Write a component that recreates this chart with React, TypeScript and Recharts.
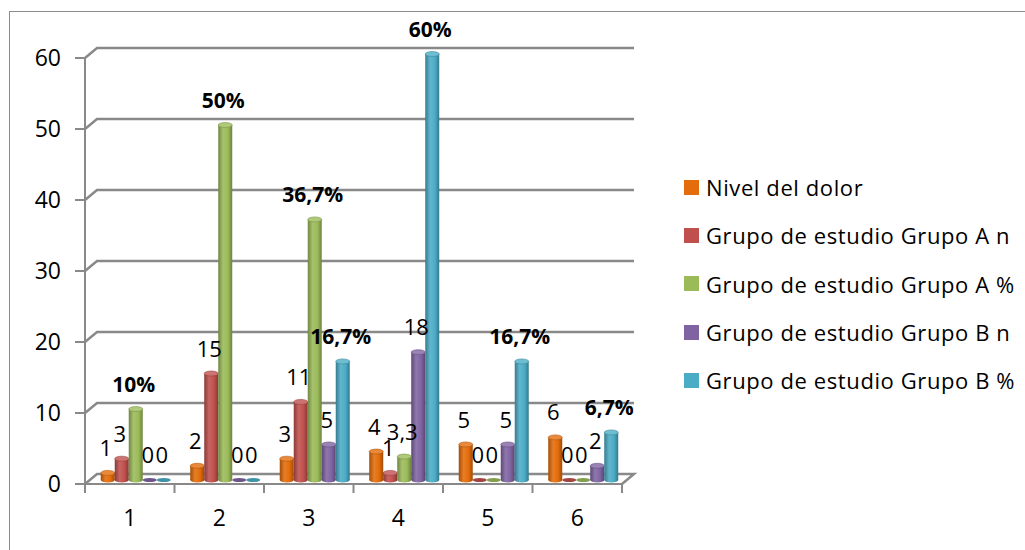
import { Bar, BarChart, CartesianGrid, LabelList, XAxis, YAxis } from "recharts";

const categories = ["1", "2", "3", "4", "5", "6"];
const nivelDolor = [1, 2, 3, 4, 5, 6];
const grupoAn = [3, 15, 11, 1, 0, 0];
const grupoApct = [10, 50, 36.7, 3.3, 0, 0];
const grupoBn = [0, 0, 5, 18, 5, 2];
const grupoBpct = [0, 0, 16.7, 60, 16.7, 6.7];
const grupoApctLabels = ["10%", "50%", "36,7%", "3,3", "0", "0"];
const grupoBpctLabels = ["0", "0", "16,7%", "60%", "16,7%", "6,7%"];
const yTicks = [0, 10, 20, 30, 40, 50, 60];

const series = [
  { key: "nivel", name: "Nivel del dolor", color: "#E46C0A", values: nivelDolor, labels: nivelDolor.map(String) },
  { key: "an", name: "Grupo de estudio Grupo A n", color: "#C0504D", values: grupoAn, labels: grupoAn.map(String) },
  { key: "ap", name: "Grupo de estudio Grupo A %", color: "#9BBB59", values: grupoApct, labels: grupoApctLabels },
  { key: "bn", name: "Grupo de estudio Grupo B n", color: "#8064A2", values: grupoBn, labels: grupoBn.map(String) },
  { key: "bp", name: "Grupo de estudio Grupo B %", color: "#4BACC6", values: grupoBpct, labels: grupoBpctLabels },
];

const data = categories.map((c, i) => {
  const row: Record<string, string | number> = { cat: c };
  series.forEach((s) => (row[s.key] = s.values[i]));
  return row;
});

const W = 1025;
const H = 550;
const M = { top: 58, right: 403, bottom: 0, left: 0 };
const Y_AXIS_W = 85;
const X_AXIS_H = 66;
const PLOT_LEFT = M.left + Y_AXIS_W;
const PLOT_RIGHT = W - M.right;
const PLOT_BOTTOM = H - M.bottom - X_AXIS_H;
const BAND = (PLOT_RIGHT - PLOT_LEFT) / categories.length;
// fake 3d depth: back wall offset, bars sit a bit behind the front edge
const DX = 12;
const DY = 10;
const BAR_DX = 5;
const BAR_LIFT = 4;
const GRID = "#898989";
const FONT = "'Open Sans', 'Noto Sans', sans-serif";

function shade(hex: string, f: number) {
  const n = parseInt(hex.slice(1), 16);
  const ch = [(n >> 16) & 255, (n >> 8) & 255, n & 255].map((v) =>
    Math.max(0, Math.min(255, Math.round(f > 1 ? v + (255 - v) * (f - 1) : v * f)))
  );
  return `rgb(${ch.join(",")})`;
}

function Cylinder(props: any) {
  const { x, y, width, height, color, id } = props;
  const left = x + BAR_DX;
  const cx = left + width / 2;
  const rx = width / 2;
  const ry = 2.5;
  if (!height || height < 1) {
    return <ellipse cx={cx} cy={y - BAR_LIFT} rx={rx} ry={2} fill={shade(color, 0.85)} />;
  }
  const top = y - BAR_LIFT;
  return (
    <g>
      <rect x={left} y={top} width={width} height={height} fill={`url(#cyl-${id})`} />
      <ellipse cx={cx} cy={top + height} rx={rx} ry={ry} fill={`url(#cyl-${id})`} />
      <ellipse cx={cx} cy={top} rx={rx} ry={ry} fill={shade(color, 1.2)} stroke={shade(color, 0.8)} strokeWidth={0.6} />
    </g>
  );
}

function makeLabel(labels: string[]) {
  return (p: any) => {
    const { x, y, width, index } = p;
    const text = labels[index];
    const bold = text.includes("%");
    return (
      <text
        x={x + BAR_DX + width / 2 - 2}
        y={y - BAR_LIFT - 25}
        dy={8}
        textAnchor="middle"
        fontFamily={FONT}
        fontSize={bold ? 21 : 22}
        fontWeight={bold ? 700 : 400}
        fill="#000"
      >
        {text}
      </text>
    );
  };
}

function GridLine(p: any) {
  const { x1, y1, x2 } = p;
  let d = `M${x1},${y1} L${x1 + DX},${y1 - DY} L${x2 + DX},${y1 - DY}`;
  if (Math.abs(y1 - PLOT_BOTTOM) < 1) d += ` L${x2},${y1}`;
  return <path key={p.key} d={d} fill="none" stroke={GRID} strokeWidth={2.5} />;
}

function YTick({ y, payload }: any) {
  return (
    <text x={61} y={y} dy={8} textAnchor="end" fontFamily={FONT} fontSize={23} fill="#000">
      {payload.value}
    </text>
  );
}

function XTick({ x, payload, index }: any) {
  const half = BAND / 2;
  const tick = (tx: number) => (
    <line x1={tx} x2={tx} y1={PLOT_BOTTOM} y2={PLOT_BOTTOM + 9} stroke={GRID} strokeWidth={2} />
  );
  return (
    <g>
      {tick(x - half)}
      {index === categories.length - 1 && tick(x + half)}
      <text x={x} y={PLOT_BOTTOM + 34} dy={8} textAnchor="middle" fontFamily={FONT} fontSize={23} fill="#000">
        {payload.value}
      </text>
    </g>
  );
}

export default function App() {
  return (
    <div style={{ position: "absolute", left: 0, top: 0, width: W, height: H, overflow: "hidden", background: "#fff" }}>
      <div
        style={{
          position: "absolute",
          left: 9,
          top: 11,
          width: W + 20,
          height: H + 20,
          border: "1.5px solid #8c8c8c",
        }}
      />
      <BarChart width={W} height={H} data={data} margin={M} barCategoryGap="12%" barGap={0}>
        <defs>
          {series.map((s) => (
            <linearGradient key={s.key} id={`cyl-${s.key}`} x1="0" y1="0" x2="1" y2="0">
              <stop offset="0%" stopColor={shade(s.color, 0.72)} />
              <stop offset="35%" stopColor={shade(s.color, 1.12)} />
              <stop offset="70%" stopColor={s.color} />
              <stop offset="100%" stopColor={shade(s.color, 0.7)} />
            </linearGradient>
          ))}
        </defs>
        <CartesianGrid vertical={false} horizontal={GridLine} />
        <YAxis
          domain={[0, 60]}
          ticks={yTicks}
          width={Y_AXIS_W}
          interval={0}
          tickSize={10}
          tick={YTick}
          tickLine={{ stroke: GRID, strokeWidth: 2 }}
          axisLine={{ stroke: GRID, strokeWidth: 2 }}
        />
        <XAxis
          dataKey="cat"
          height={X_AXIS_H}
          interval={0}
          tickLine={false}
          tick={XTick}
          axisLine={{ stroke: GRID, strokeWidth: 2 }}
        />
        {series.map((s) => (
          <Bar
            key={s.key}
            dataKey={s.key}
            name={s.name}
            fill={s.color}
            isAnimationActive={false}
            shape={(p: any) => <Cylinder {...p} color={s.color} id={s.key} />}
          >
            <LabelList dataKey={s.key} content={makeLabel(s.labels)} />
          </Bar>
        ))}
      </BarChart>
      <div
        style={{
          position: "absolute",
          left: 684,
          top: 163,
          fontFamily: FONT,
          fontSize: 22,
          letterSpacing: 0.6,
          color: "#000",
        }}
      >
        {series.map((s) => (
          <div key={s.key} style={{ display: "flex", alignItems: "center", height: 48.3, whiteSpace: "nowrap" }}>
            <span style={{ width: 15, height: 15, background: s.color, marginRight: 7, flex: "none" }} />
            <span>{s.name}</span>
          </div>
        ))}
      </div>
    </div>
  );
}
